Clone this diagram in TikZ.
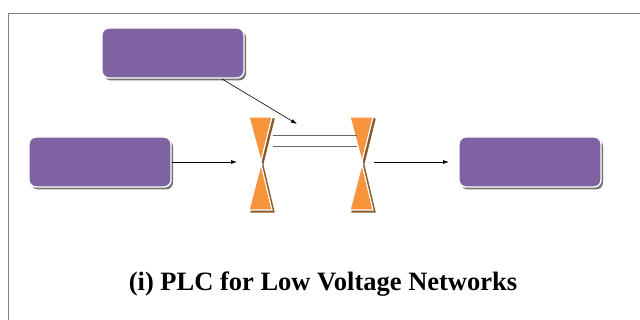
\documentclass[tikz,border=0pt]{standalone}
\usepackage{fontspec}
\setmainfont{Liberation Serif}
\usetikzlibrary{arrows.meta,shadows}
\definecolor{boxpurple}{HTML}{7E62A1}
\definecolor{hgorange}{HTML}{F7943C}
\definecolor{hgshadow}{HTML}{8B5A2B}
\definecolor{framegray}{HTML}{808080}
\begin{document}
\begin{tikzpicture}[x=1pt,y=-1pt,
  purplebox/.style={rectangle, rounded corners=7pt, fill=boxpurple, draw=white, line width=1.4pt,
    minimum width=142pt, minimum height=50pt, inner sep=0pt,
    drop shadow={shadow xshift=2pt, shadow yshift=-2.5pt, fill=black!55, opacity=1}},
  hgbox/.style={rectangle, minimum width=24pt, minimum height=93pt, inner sep=0pt},
  conn/.style={draw=black, line width=0.6pt, -{Latex[length=6pt,width=4pt]}},
  wire/.style={draw=black!60, line width=0.6pt},
  tri/.style={fill=hgorange, draw=white, line width=1.2pt, line join=miter},
  trishadow/.style={fill=hgshadow, draw=hgshadow, line width=1.2pt}
]
\useasboundingbox (0,0) rectangle (640,320);
\fill[white] (0,0) rectangle (640,320);
\draw[framegray, line width=0.8pt] (8,320) -- (8,13) -- (640,13);

% boxes
\node[purplebox] (top) at (173,53) {};
\node[purplebox] (left) at (100,162) {};
\node[purplebox] (right) at (530,162) {};

% hourglasses
\node[hgbox] (hgL) at (261,163.5) {};
\node[hgbox] (hgR) at (362,163.5) {};
\foreach \h in {hgL,hgR}{
  \begin{scope}[shift={(\h.center)}]
    \filldraw[trishadow] (-10,-44.5) -- (13,-44.5) -- (2,0) -- cycle;
    \filldraw[trishadow] (2,2) -- (-10,48.5) -- (13,48.5) -- cycle;
    \filldraw[tri] (-12,-46.5) -- (11,-46.5) -- (0,-2) -- cycle;
    \filldraw[tri] (0,0.5) -- (-12,46.5) -- (11,46.5) -- cycle;
  \end{scope}
}

% wires between hourglasses
\coordinate (wAL) at (273,135);
\coordinate (wAR) at (357,135);
\coordinate (wBL) at (273,146);
\coordinate (wBR) at (357,146);
\draw[wire] (wAL) -- (wAR);
\draw[wire] (wBL) -- (wBR);

% connectors
\coordinate (inL) at (237,162);
\coordinate (outR) at (449,162);
\coordinate (topStart) at (222,79);
\coordinate (topEnd) at (297,124);
\draw[conn] (left.east) -- (inL);
\draw[conn] (hgR.east |- outR) -- (outR);
\draw[conn] (topStart) -- (topEnd);

% title
\node[font=\bfseries\fontsize{26.5}{30}\selectfont, anchor=base] (title) at (323,291) {(i) PLC for Low Voltage Networks};
\end{tikzpicture}
\end{document}
